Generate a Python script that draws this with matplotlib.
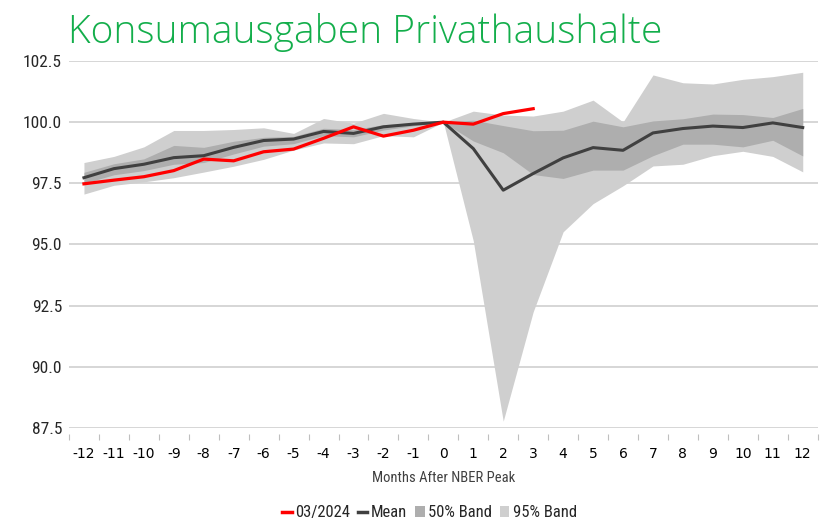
import numpy as np
import matplotlib
matplotlib.use("Agg")
import matplotlib.pyplot as plt
from matplotlib import font_manager
from matplotlib.lines import Line2D
from matplotlib.patches import Patch

# months relative to the NBER peak
months = list(range(-12, 13))

# current cycle (03/2024), only up to month 3
red_months = list(range(-12, 4))
red_vals = [97.48, 97.63, 97.77, 98.02, 98.49, 98.42, 98.79, 98.90,
            99.34, 99.81, 99.43, 99.67, 100.00, 99.92, 100.35, 100.55]

mean_vals = [97.73, 98.10, 98.28, 98.55, 98.63, 98.97, 99.25, 99.31,
             99.62, 99.54, 99.81, 99.92, 100.00, 98.92, 97.22, 97.90,
             98.54, 98.96, 98.85, 99.56, 99.74, 99.84, 99.78, 99.97, 99.78]

band95_hi = [98.35, 98.60, 98.99, 99.66, 99.66, 99.70, 99.77, 99.54,
             100.15, 99.96, 100.36, 100.15, 100.00, 100.45, 100.29, 100.25,
             100.45, 100.90, 100.01, 101.93, 101.61, 101.56, 101.75, 101.86, 102.04]
band95_lo = [97.06, 97.42, 97.56, 97.73, 97.96, 98.20, 98.48, 98.86,
             99.15, 99.12, 99.45, 99.40, 100.00, 95.15, 87.78, 92.25,
             95.52, 96.67, 97.40, 98.21, 98.28, 98.63, 98.81, 98.60, 97.97]

band50_hi = [97.95, 98.30, 98.50, 99.05, 98.97, 99.22, 99.38, 99.42,
             99.75, 99.70, 99.90, 99.97, 100.00, 100.08, 99.86, 99.65,
             99.67, 100.04, 99.81, 100.05, 100.14, 100.33, 100.31, 100.19, 100.56]
band50_lo = [97.50, 97.85, 98.02, 98.28, 98.35, 98.70, 99.02, 99.12,
             99.45, 99.40, 99.68, 99.85, 100.00, 99.23, 98.75, 97.86,
             97.70, 98.04, 98.04, 98.63, 99.10, 99.10, 98.99, 99.26, 98.62]

y_ticks = [87.5, 90.0, 92.5, 95.0, 97.5, 100.0, 102.5]

# pick a condensed face if the box has one
ttf = font_manager.fontManager.ttflist
names = {f.name for f in ttf}
NARROW_PROPS = {'family': ['DejaVu Sans']}
for cand in ['Liberation Sans Narrow', 'Roboto Condensed', 'Open Sans Condensed',
             'Noto Sans Condensed', 'DejaVu Sans Condensed']:
    if cand in names:
        NARROW_PROPS = {'family': [cand, 'DejaVu Sans']}
        break
else:
    cond = [f for f in ttf if f.stretch in ('condensed', 'semi-condensed', 600, 700)
            or 'ondensed' in f.fname or 'Narrow' in f.fname]
    if cond:
        NARROW_PROPS = {'family': [cond[0].name, 'DejaVu Sans'],
                        'stretch': 'condensed'}

TXT = '#262626'
GREEN = '#13AE4B'

fig = plt.figure(figsize=(8.31, 5.24), dpi=100)
ax = fig.add_axes([0.083, 0.1832, 0.901, 0.7004])

ax.fill_between(months, band95_lo, band95_hi, color='#CFCFCF', lw=0, zorder=2)
ax.fill_between(months, band50_lo, band50_hi, color='#AEAEAE', lw=0, zorder=3)
ax.plot(months, mean_vals, color='#404040', lw=2.2, zorder=4)
ax.plot(red_months, red_vals, color='#FF0000', lw=2.3, zorder=5)

ax.set_xlim(-12.5, 12.5)
ax.set_ylim(87.5, 102.5)
ax.set_yticks(y_ticks)
ax.set_yticklabels([f"{v:.1f}" for v in y_ticks], fontsize=12.5, color=TXT,
                   **NARROW_PROPS)
ax.yaxis.grid(True, color='#D0D0D0', lw=1.2, zorder=0)
ax.set_axisbelow(True)

ax.set_xticks(months)
ax.set_xticklabels([str(m) for m in months], fontsize=11.5, color=TXT,
                   **NARROW_PROPS)
ax.set_xticks(np.arange(-12.5, 13, 1), minor=True)
ax.tick_params(axis='x', which='major', length=0, pad=10)
ax.tick_params(axis='x', which='minor', length=4, width=0.8,
               color='#BFBFBF', direction='out')
ax.tick_params(axis='y', length=0, pad=5)

for s in ax.spines.values():
    s.set_visible(False)
ax.spines['bottom'].set_position(('outward', 4))

ax.set_xlabel('Months After NBER Peak', fontsize=10.5, color='#404040',
              labelpad=7, **NARROW_PROPS)

fig.text(0.082, 0.918, 'Konsumausgaben Privathaushalte',
         family=['Open Sans', 'DejaVu Sans'], fontweight='light',
         fontsize=28, color=GREEN, va='baseline', ha='left')

handles = [Line2D([0], [0], color='#FF0000', lw=2.5),
           Line2D([0], [0], color='#404040', lw=2.5),
           Patch(facecolor='#AEAEAE', edgecolor='none'),
           Patch(facecolor='#CFCFCF', edgecolor='none')]
labels = ['03/2024', 'Mean', '50% Band', '95% Band']
leg = fig.legend(handles, labels, loc='center', bbox_to_anchor=(0.517, 0.021),
                 ncol=4, frameon=False, handlelength=0.55, handleheight=0.6,
                 handletextpad=0.2, columnspacing=0.5,
                 prop=dict(size=12, **NARROW_PROPS))
for t in leg.get_texts():
    t.set_color(TXT)

fig.savefig('out.png', dpi=100)
